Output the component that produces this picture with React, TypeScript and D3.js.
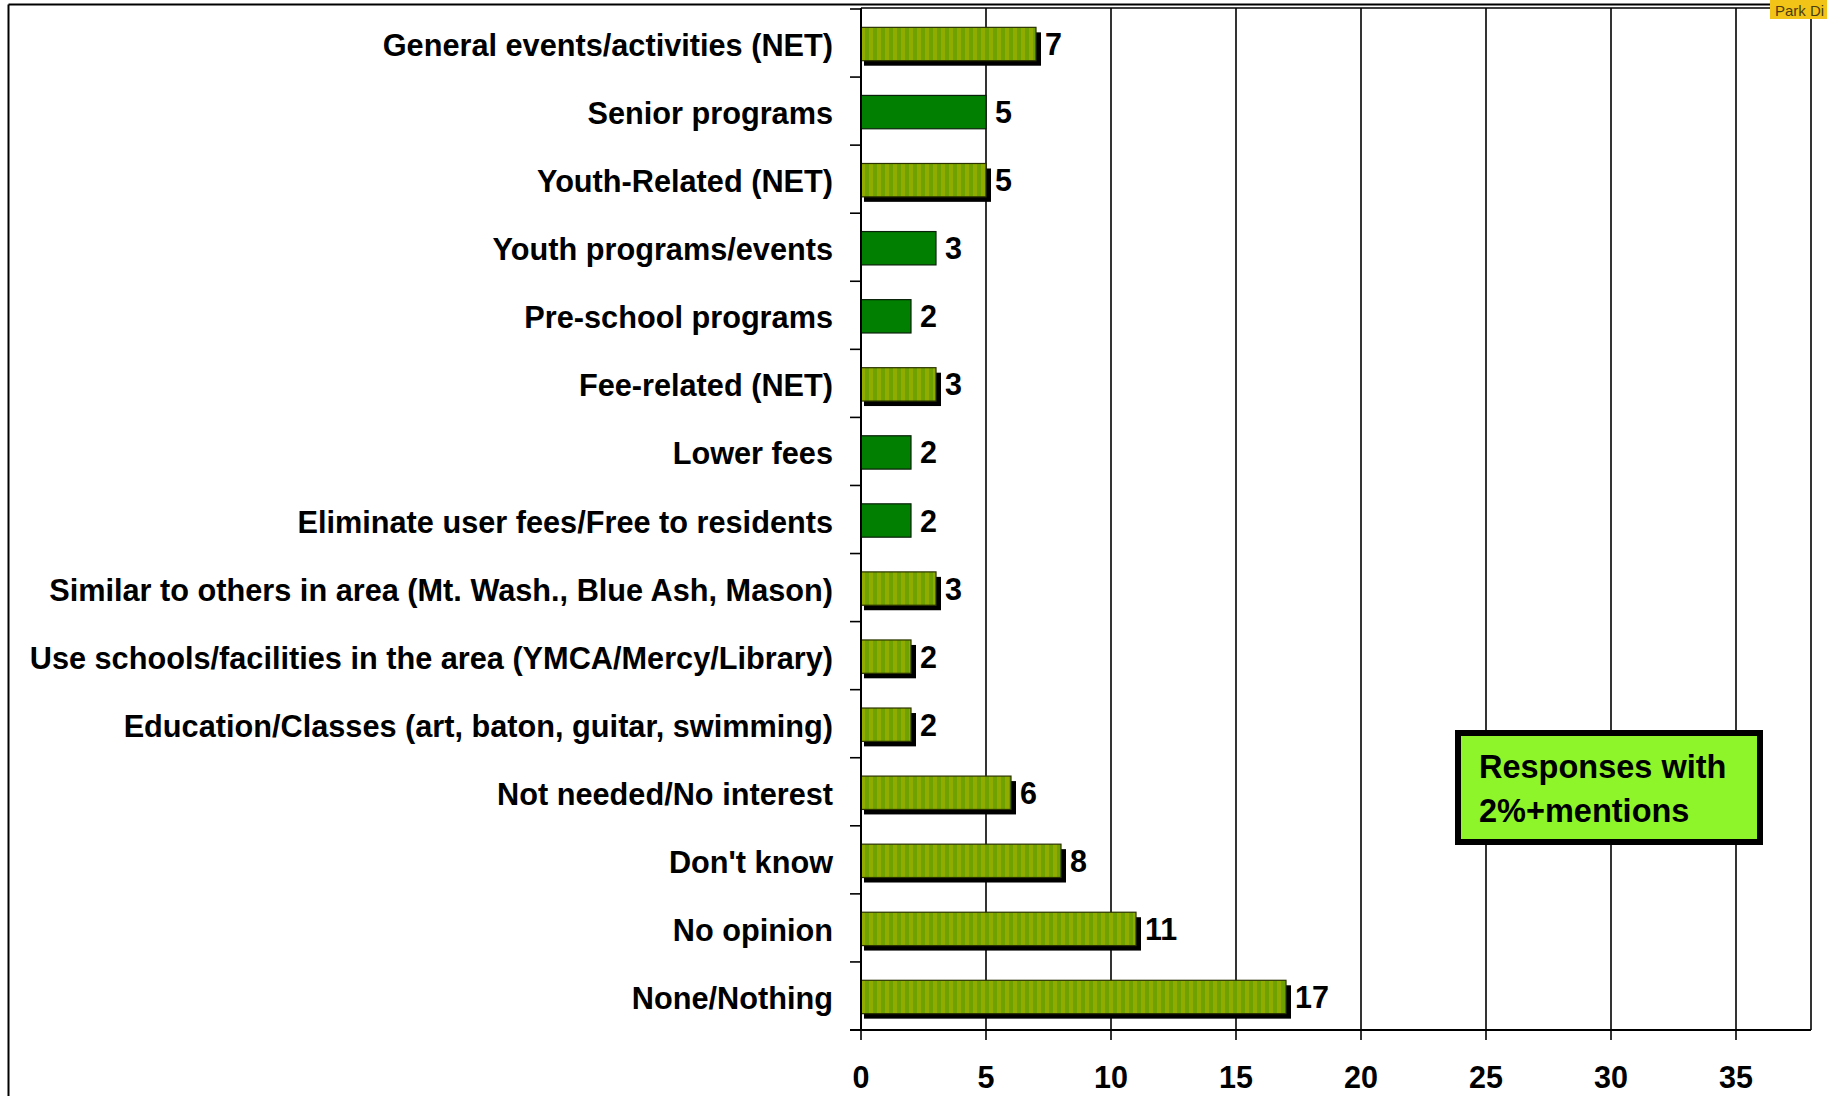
import React from "react";
import * as d3 from "d3";

const categories = [
  "General events/activities (NET)",
  "Senior programs",
  "Youth-Related (NET)",
  "Youth programs/events",
  "Pre-school programs",
  "Fee-related (NET)",
  "Lower fees",
  "Eliminate user fees/Free to residents",
  "Similar to others in area (Mt. Wash., Blue Ash, Mason)",
  "Use schools/facilities in the area (YMCA/Mercy/Library)",
  "Education/Classes (art, baton, guitar, swimming)",
  "Not needed/No interest",
  "Don't know",
  "No opinion",
  "None/Nothing",
];

const values = [7, 5, 5, 3, 2, 3, 2, 2, 3, 2, 2, 6, 8, 11, 17];

// "net" = striped bar with shadow, "sub" = solid green bar
const barKinds = [
  "net", "sub", "net", "sub", "sub", "net", "sub", "sub",
  "net", "net", "net", "net", "net", "net", "net",
];

const xTicks = [0, 5, 10, 15, 20, 25, 30, 35];
const xMax = 38;

const legendLines = ["Responses with", "2%+mentions"];
const tabText = "Park Di";

const FONT = "'Liberation Sans', Arial, Helvetica, sans-serif";

export default function App() {
  const W = 1827;
  const H = 1096;
  const left = 861;
  const right = 1811;
  const top = 8;
  const bottom = 1030;

  const x = d3.scaleLinear().domain([0, xMax]).range([left, right]);
  const y = d3
    .scaleBand<string>()
    .domain(categories)
    .range([top + 1, bottom])
    .paddingInner(0.51)
    .paddingOuter(0.255);

  const step = y.step();
  const bandStart = top + 1;
  const boundaries = d3.range(categories.length + 1).map((i) => bandStart + i * step);

  return (
    <svg
      width={W}
      height={H}
      style={{ position: "absolute", left: 0, top: 0, background: "#fff" }}
      fontFamily={FONT}
    >
      <defs>
        <pattern id="stripes" patternUnits="userSpaceOnUse" width={8} height={10} x={861}>
          <rect width={8} height={10} fill="#6FA200" />
          <rect width={4} height={10} fill="#90AC00" />
        </pattern>
      </defs>
      <rect x={0} y={0} width={W} height={H} fill="#fff" />

      {/* outer frame */}
      <line x1={8.5} y1={4.5} x2={W} y2={4.5} stroke="#000" strokeWidth={2} />
      <line x1={8.5} y1={4.5} x2={8.5} y2={H} stroke="#000" strokeWidth={2} />

      {/* plot border top / right */}
      <line x1={left} y1={top} x2={right} y2={top} stroke="#000" strokeWidth={1.6} />
      <line x1={right} y1={top} x2={right} y2={bottom} stroke="#000" strokeWidth={1.6} />

      {/* gridlines + tick marks */}
      {xTicks.map((t) => (
        <line
          key={"g" + t}
          x1={x(t)}
          x2={x(t)}
          y1={t === 0 ? bottom : top}
          y2={bottom + 10}
          stroke="#000"
          strokeWidth={1.6}
        />
      ))}

      {/* y tick marks at band boundaries */}
      {boundaries.map((b, i) => (
        <line key={"yt" + i} x1={left - 11} x2={left} y1={b} y2={b} stroke="#000" strokeWidth={1.6} />
      ))}

      {/* bars */}
      {categories.map((c, i) => {
        const by = (y(c) as number) + 1;
        const bh = y.bandwidth();
        const bw = x(values[i]) - x(0);
        const isNet = barKinds[i] === "net";
        return (
          <g key={"b" + i}>
            {isNet && (
              <rect x={x(0) + 3} y={by + 5} width={bw + 2} height={bh} fill="#000" />
            )}
            <rect
              x={x(0)}
              y={by}
              width={bw}
              height={bh}
              fill={isNet ? "url(#stripes)" : "#007F00"}
              stroke={isNet ? "#2a3300" : "#0a200a"}
              strokeWidth={1.2}
            />
            <text
              x={x(values[i]) + 9}
              y={by + bh / 2 + 11}
              fontSize={30.5}
              fontWeight="bold"
              fill="#000"
            >
              {values[i]}
            </text>
          </g>
        );
      })}

      {/* axes */}
      <line x1={left} y1={top} x2={left} y2={bottom} stroke="#000" strokeWidth={2} />
      <line x1={left - 11} y1={bottom} x2={right} y2={bottom} stroke="#000" strokeWidth={2} />

      {/* category labels */}
      {categories.map((c, i) => (
        <text
          key={"l" + i}
          x={833}
          y={(y(c) as number) + y.bandwidth() / 2 + 13}
          textAnchor="end"
          fontSize={30.7}
          fontWeight="bold"
          fill="#000"
        >
          {c}
        </text>
      ))}

      {/* x tick labels */}
      {xTicks.map((t) => (
        <text
          key={"xl" + t}
          x={x(t)}
          y={1088}
          textAnchor="middle"
          fontSize={30.5}
          fontWeight="bold"
          fill="#000"
        >
          {t}
        </text>
      ))}

      {/* legend box */}
      <rect x={1458} y={733} width={302} height={109} fill="#8EF52A" stroke="#000" strokeWidth={6} />
      {legendLines.map((l, i) => (
        <text key={"lg" + i} x={1479} y={778 + i * 44} fontSize={32.5} fontWeight="bold" fill="#000">
          {l}
        </text>
      ))}

      {/* top-right tab */}
      <rect x={1770} y={0} width={60} height={19} fill="#F2C417" />
      <text x={1775} y={16} fontSize={15} fill="#4a3c10" fontFamily={FONT}>
        {tabText}
      </text>
    </svg>
  );
}
